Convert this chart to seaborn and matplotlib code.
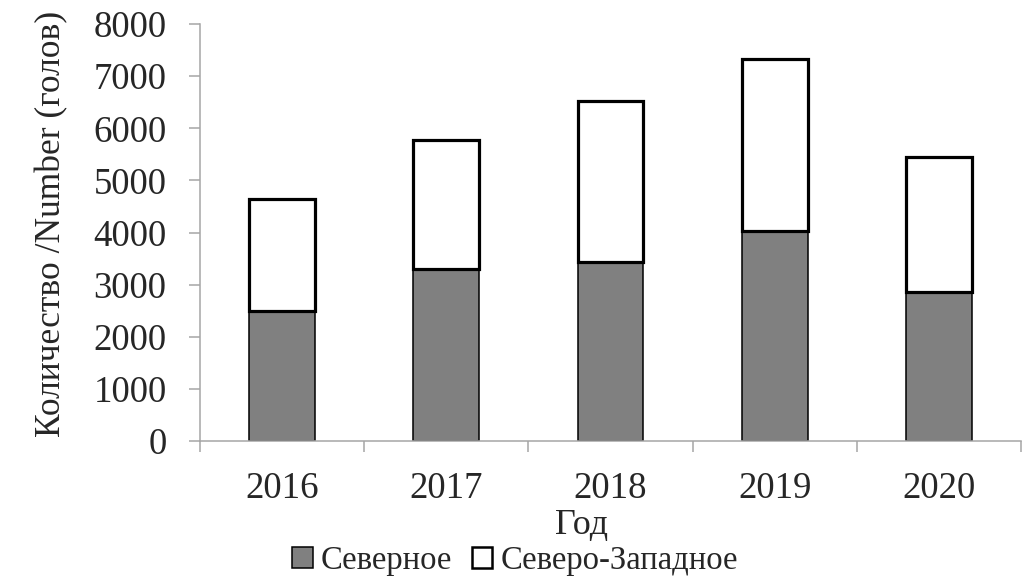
import matplotlib
matplotlib.use("Agg")
import matplotlib.pyplot as plt
from matplotlib.patches import Patch
from matplotlib.ticker import FixedLocator
import seaborn as sns
import pandas as pd
import numpy as np

years = ["2016", "2017", "2018", "2019", "2020"]
north = [2495, 3295, 3440, 4035, 2865]
northwest = [2140, 2485, 3085, 3295, 2585]
series_names = ["Северное", "Северо-Западное"]
y_ticks = [0, 1000, 2000, 3000, 4000, 5000, 6000, 7000, 8000]

sns.set_theme(style="white")
plt.rcParams['font.family'] = ['Liberation Serif', 'DejaVu Serif']

df = pd.DataFrame({"year": years, "north": north, "northwest": northwest})

fig = plt.figure(figsize=(10.28, 5.79), dpi=100)
ax = fig.add_axes([200/1028, 138/579, 821/1028, 417/579])

axis_col = "#a6a6a6"

sns.barplot(data=df, x="year", y="north", order=years, color="#808080",
            saturation=1, width=0.40, edgecolor="black", linewidth=1.1, ax=ax)
sns.barplot(data=df, x="year", y="northwest", order=years, color="white",
            saturation=1, width=0.40, edgecolor="black", linewidth=2.3,
            bottom=np.array(north), ax=ax)

ax.set_xlim(-0.5, 4.5)
ax.set_ylim(0, 8000)
ax.set_yticks(y_ticks)
ax.set_yticklabels([str(t) for t in y_ticks], fontsize=26.5)
ax.set_xticklabels(years, fontsize=26.5)

ax.tick_params(axis="x", which="major", length=0, pad=22)
ax.xaxis.set_minor_locator(FixedLocator([-0.5, 0.5, 1.5, 2.5, 3.5, 4.5]))
ax.tick_params(axis="x", which="minor", bottom=True, length=8, width=1.1,
               color=axis_col, direction="out")
ax.tick_params(axis="y", which="major", left=True, length=8, width=1.1,
               color=axis_col, direction="out", pad=16)

for s in ["top", "right"]:
    ax.spines[s].set_visible(False)
for s in ["left", "bottom"]:
    ax.spines[s].set_color(axis_col)
    ax.spines[s].set_linewidth(1.1)

ax.set_xlabel("Год", fontsize=26)
ax.xaxis.set_label_coords(0.465, -0.163)
ax.set_ylabel("Количество /Number (голов)", fontsize=25.5)
ax.yaxis.set_label_coords(-0.161, 0.52)

handles = [Patch(facecolor="#808080", edgecolor="black", linewidth=1.1),
           Patch(facecolor="white", edgecolor="black", linewidth=1.8)]
fig.legend(handles, series_names, loc="center", ncol=2,
           bbox_to_anchor=(515/1028, 1 - 561/579), frameon=False,
           fontsize=23.5, handlelength=0.62, handleheight=0.62,
           handletextpad=0.25, columnspacing=0.6, borderpad=0.1)

fig.savefig("out.png", dpi=100)
